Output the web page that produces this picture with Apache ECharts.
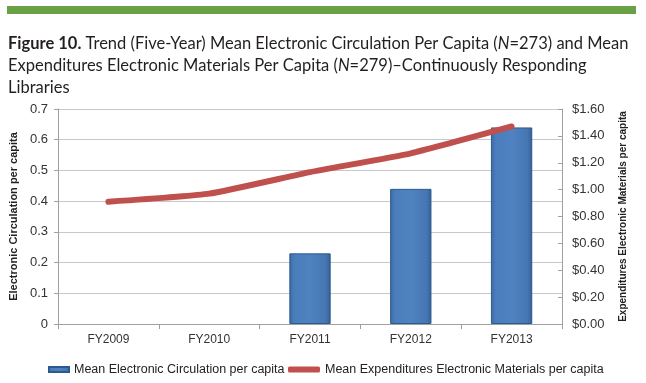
<!DOCTYPE html>
<html><head><meta charset="utf-8">
<script src="https://cdn.jsdelivr.net/npm/echarts@6/dist/echarts.min.js"></script>
<style>html,body{margin:0;padding:0;background:#fff}#c{width:646px;height:383px}</style>
</head><body><div id="c"></div>
<script>
const categories = ['FY2009','FY2010','FY2011','FY2012','FY2013'];
const circulation = [null, null, 0.23, 0.44, 0.64];
const expenditures = [0.91, 0.97, 1.13, 1.27, 1.47];
const leftTicks = [0, 0.7, 0.1];
const rightTicks = [0, 1.6, 0.2];
const seriesNames = ['Mean Electronic Circulation per capita', 'Mean Expenditures Electronic Materials per capita'];

const chart = echarts.init(document.getElementById('c'), null, {renderer:'canvas'});
const axFont = 'Liberation Sans';
chart.setOption({
  animation: false,
  graphic: [{type:'rect', shape:{x:7,y:6,width:629,height:8}, style:{fill:'#6aa146'}}],
  title: {
    left: 8, top: 33, padding: 0,
    text: '{b|Figure 10.} Trend (Five-Year) Mean Electronic Circulation Per Capita ({i|N}=273) and Mean\nExpenditures Electronic Materials Per Capita ({i|N}=279)\u2013Continuously Responding\nLibraries',
    textStyle: {
      fontFamily: 'Lato', fontSize: 16.5, fontWeight: 'normal', color: '#231f20', lineHeight: 22,
      rich: {
        b: {fontFamily:'Lato', fontSize:16.5, fontWeight:'bold', color:'#231f20', lineHeight:22},
        i: {fontFamily:'Lato', fontSize:16.5, fontStyle:'italic', color:'#231f20', lineHeight:22}
      }
    }
  },
  grid: {left: 58, right: 84, top: 109, bottom: 59},
  legend: [
    {
      left: 48, top: 363, padding: 0,
      textStyle: {fontFamily: axFont, fontSize: 12.5, color: '#222'},
      data: [{name: seriesNames[0], icon: 'rect'}],
      itemWidth: 20, itemHeight: 5
    },
    {
      left: 288, top: 363, padding: 0,
      textStyle: {fontFamily: axFont, fontSize: 12.5, color: '#222'},
      data: [{name: seriesNames[1], icon: 'roundRect'}],
      itemWidth: 32, itemHeight: 6
    }
  ],
  xAxis: {
    type: 'category', data: categories, boundaryGap: true,
    axisLine: {lineStyle: {color: '#a0a0a0'}},
    axisTick: {show: true, alignWithLabel: false, length: 5, lineStyle: {color: '#a0a0a0'}},
    axisLabel: {fontFamily: axFont, fontSize: 12, color: '#333', margin: 10}
  },
  yAxis: [
    {
      type: 'value', min: leftTicks[0], max: leftTicks[1], interval: leftTicks[2],
      name: 'Electronic Circulation per capita', nameLocation: 'middle', nameGap: 38, nameRotate: 90,
      nameTextStyle: {fontFamily: axFont, fontSize: 11, fontWeight: 'bold', color: '#222'},
      axisLine: {show: true, lineStyle: {color: '#a0a0a0'}},
      axisTick: {show: true, length: 4, lineStyle: {color: '#a0a0a0'}},
      axisLabel: {fontFamily: axFont, fontSize: 13, color: '#333', margin: 10,
        formatter: v => v === 0 ? '0' : v.toFixed(1)},
      splitLine: {lineStyle: {color: '#c8c8c8'}}
    },
    {
      type: 'value', min: rightTicks[0], max: rightTicks[1], interval: rightTicks[2], position: 'right',
      name: 'Expenditures Electronic Materials per capita', nameLocation: 'middle', nameGap: 56, nameRotate: 90,
      nameTextStyle: {fontFamily: axFont, fontSize: 10, fontWeight: 'bold', color: '#222'},
      axisLine: {show: true, lineStyle: {color: '#a0a0a0'}},
      axisTick: {show: true, inside: true, length: 4, lineStyle: {color: '#a0a0a0'}},
      axisLabel: {fontFamily: axFont, fontSize: 13, color: '#333', margin: 10,
        formatter: v => '$' + v.toFixed(2)},
      splitLine: {show: false}
    }
  ],
  series: [
    {
      name: seriesNames[0], type: 'bar', yAxisIndex: 0, data: circulation, barWidth: '41%',
      itemStyle: {
        color: new echarts.graphic.LinearGradient(0,0,1,0,[
          {offset:0, color:'#3b6ba5'},{offset:0.12, color:'#4a7dbb'},{offset:0.5, color:'#4f82c0'},{offset:0.88, color:'#4677b3'},{offset:1, color:'#355f95'}
        ]),
        borderColor: '#2d5a8e', borderWidth: 1
      }
    },
    {
      name: seriesNames[1], type: 'line', yAxisIndex: 1, data: expenditures, smooth: 0.15,
      showSymbol: false, symbol: 'none',
      lineStyle: {color: '#c0504d', width: 6, cap: 'round'},
      itemStyle: {color: '#c0504d'}
    }
  ]
});
</script></body></html>
